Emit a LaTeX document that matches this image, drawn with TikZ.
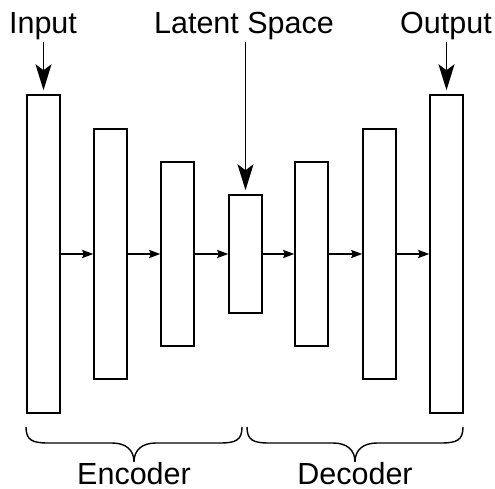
\documentclass[tikz,border=0pt]{standalone}
\usepackage{fontspec}
\setmainfont{Liberation Sans}
\usetikzlibrary{arrows.meta}
\begin{document}
\begin{tikzpicture}[x=1pt,y=-1pt,
  layer/.style={draw,line width=1.5pt,minimum width=33pt,inner sep=0pt},
  lbl/.style={font=\fontsize{30.5}{30.5}\selectfont,inner sep=1pt},
  flow/.style={line width=1.6pt,-{Stealth[length=11pt,width=8pt,inset=1.5pt]}},
  bigarrow/.style={line width=1.6pt,-{Stealth[length=26pt,width=16pt,inset=6pt]},shorten >=4pt},
  bracestyle/.style={line width=1.4pt}]
\useasboundingbox (0,0) rectangle (495,489);
\node[layer,minimum height=318pt] (r1) at (43.5,254) {};
\node[layer,minimum height=250pt] (r2) at (110.5,254) {};
\node[layer,minimum height=184pt] (r3) at (177.5,254) {};
\node[layer,minimum height=118pt] (r4) at (245.5,254) {};
\node[layer,minimum height=184pt] (r5) at (311.5,254) {};
\node[layer,minimum height=250pt] (r6) at (379.5,254) {};
\node[layer,minimum height=318pt] (r7) at (446.5,254) {};
\foreach \a/\b in {r1/r2,r2/r3,r3/r4,r4/r5,r5/r6,r6/r7}
  \draw[flow] (\a.east) -- (\b.west);
\node[lbl,anchor=base] (in) at (43,34) {Input};
\node[lbl,anchor=base] (ls) at (244,34) {Latent Space};
\node[lbl,anchor=base] (out) at (446,34) {Output};
\draw[bigarrow] (in.south -| r1.north) -- (r1.north);
\draw[bigarrow] (ls.south -| r4.north) -- (r4.north);
\draw[bigarrow] (out.south -| r7.north) -- (r7.north);
% braces
\draw[bracestyle] (26,427) .. controls (26,440) and (32,443) .. (48,443)
  -- (112,443) .. controls (126,443) and (134,450) .. (134,462)
  .. controls (134,450) and (142,443) .. (156,443)
  -- (220,443) .. controls (236,443) and (242,440) .. (242,427);
\draw[bracestyle] (247,427) .. controls (247,440) and (253,443) .. (269,443)
  -- (333,443) .. controls (347,443) and (355,450) .. (355,462)
  .. controls (355,450) and (363,443) .. (377,443)
  -- (441,443) .. controls (457,443) and (463,440) .. (463,427);
\node[lbl,anchor=base] (enc) at (134,484) {Encoder};
\node[lbl,anchor=base] (dec) at (355,484) {Decoder};
\end{tikzpicture}
\end{document}
